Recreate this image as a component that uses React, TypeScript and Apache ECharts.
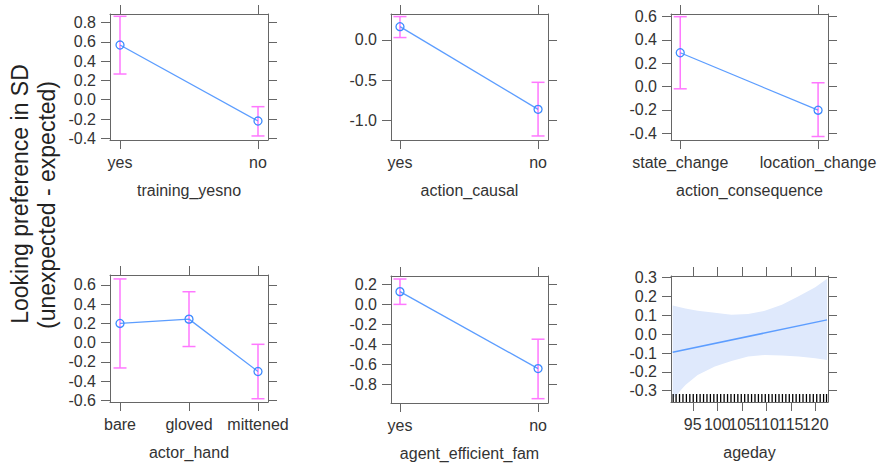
import React, { useEffect, useRef } from "react";
import * as echarts from "echarts";

// ---- data ----
const trainingCats = ["yes", "no"];
const trainingFit = [0.568, -0.221];
const trainingLo = [0.267, -0.376];
const trainingHi = [0.866, -0.072];

const causalCats = ["yes", "no"];
const causalFit = [0.165, -0.86];
const causalLo = [0.03, -1.19];
const causalHi = [0.29, -0.525];

const consequenceCats = ["state_change", "location_change"];
const consequenceFit = [0.29, -0.204];
const consequenceLo = [-0.02, -0.43];
const consequenceHi = [0.6, 0.032];

const handCats = ["bare", "gloved", "mittened"];
const handFit = [0.2, 0.245, -0.3];
const handLo = [-0.263, -0.04, -0.583];
const handHi = [0.663, 0.53, -0.017];

const efficientCats = ["yes", "no"];
const efficientFit = [0.127, -0.64];
const efficientLo = [0.0, -0.94];
const efficientHi = [0.253, -0.347];

const ageFitX = [90.9, 122.4];
const ageFitY = [-0.096, 0.076];
const ageBandX = [90.9, 93.5, 96.0, 99.5, 102.9, 106.3, 109.7, 113.2, 116.6, 120.0, 122.4];
const ageBandHi = [0.153, 0.137, 0.124, 0.114, 0.103, 0.107, 0.124, 0.156, 0.201, 0.249, 0.295];
const ageBandLo = [-0.345, -0.27, -0.216, -0.172, -0.142, -0.119, -0.11, -0.113, -0.119, -0.128, -0.137];
const ageRug = [
  91.0, 91.6, 92.3, 93.0, 93.7, 94.4, 95.1, 95.8, 96.5, 97.2, 97.9, 98.6, 99.3, 100.0, 100.7,
  101.4, 102.1, 102.8, 103.5, 104.2, 104.9, 105.6, 106.3, 107.0, 107.7, 108.4, 109.1, 109.8,
  110.5, 111.2, 111.9, 112.6, 113.3, 114.0, 114.7, 115.4, 116.1, 116.8, 117.5, 118.2, 118.9,
  119.6, 120.3, 121.0, 121.7, 122.3,
];
const ageTicks = [95, 100, 105, 110, 115, 120];
const ageLabelsA = [95, 105, 115];
const ageLabelsB = [100, 110, 120];

const yTicks1 = [-0.4, -0.2, 0.0, 0.2, 0.4, 0.6, 0.8];
const yTicks2 = [-1.0, -0.5, 0.0];
const yTicks3 = [-0.4, -0.2, 0.0, 0.2, 0.4, 0.6];
const yTicks4 = [-0.6, -0.4, -0.2, 0.0, 0.2, 0.4, 0.6];
const yTicks5 = [-0.8, -0.6, -0.4, -0.2, 0.0, 0.2];
const yTicks6 = [-0.3, -0.2, -0.1, 0.0, 0.1, 0.2, 0.3];

const titles = [
  "training_yesno",
  "action_causal",
  "action_consequence",
  "actor_hand",
  "agent_efficient_fam",
  "ageday",
];

// ---- styles ----
const FONT = "'Liberation Sans', Arial, Helvetica, sans-serif";
const TXT = "#333333";
const BOX = "#666666";
const MAGENTA = "#ff77ff";
const LINE_BLUE = "#5c9dff";
const PT_BLUE = "#3d8bff";
const BAND = "#dfe9fc";

type Panel = {
  left: number; top: number; width: number; height: number;
  xMin: number; xMax: number; yMin: number; yMax: number;
  cats?: string[]; fit?: number[]; lo?: number[]; hi?: number[];
  yTicks: number[];
};

const panels: Panel[] = [
  { left: 110, top: 14, width: 158, height: 126, xMin: -0.0725, xMax: 1.0725, yMin: -0.418, yMax: 0.89,
    cats: trainingCats, fit: trainingFit, lo: trainingLo, hi: trainingHi, yTicks: yTicks1 },
  { left: 391, top: 14, width: 157, height: 126, xMin: -0.065, xMax: 1.072, yMin: -1.24, yMax: 0.322,
    cats: causalCats, fit: causalFit, lo: causalLo, hi: causalHi, yTicks: yTicks2 },
  { left: 671, top: 14, width: 157, height: 126, xMin: -0.067, xMax: 1.072, yMin: -0.46, yMax: 0.623,
    cats: consequenceCats, fit: consequenceFit, lo: consequenceLo, hi: consequenceHi, yTicks: yTicks3 },
  { left: 110, top: 275, width: 158, height: 127, xMin: -0.145, xMax: 2.145, yMin: -0.617, yMax: 0.704,
    cats: handCats, fit: handFit, lo: handLo, hi: handHi, yTicks: yTicks4 },
  { left: 391, top: 276, width: 157, height: 127, xMin: -0.065, xMax: 1.072, yMin: -0.983, yMax: 0.283,
    cats: efficientCats, fit: efficientFit, lo: efficientLo, hi: efficientHi, yTicks: yTicks5 },
  { left: 671, top: 276, width: 157, height: 126, xMin: 90.56, xMax: 122.6, yMin: -0.36, yMax: 0.309,
    yTicks: yTicks6 },
];

const errRender = (params: any, api: any) => {
  const x = api.value(0);
  const lo = api.coord([x, api.value(1)]);
  const hi = api.coord([x, api.value(2)]);
  const hw = 6.5;
  const style = { stroke: MAGENTA, lineWidth: 1.5, fill: "none" };
  return {
    type: "group",
    children: [
      { type: "line", shape: { x1: lo[0], y1: lo[1], x2: hi[0], y2: hi[1] }, style },
      { type: "line", shape: { x1: lo[0] - hw, y1: lo[1], x2: lo[0] + hw, y2: lo[1] }, style },
      { type: "line", shape: { x1: hi[0] - hw, y1: hi[1], x2: hi[0] + hw, y2: hi[1] }, style },
    ],
  };
};

const bandRender = (params: any, api: any) => {
  const cs = params.coordSys;
  const upper = ageBandX.map((x, k) => api.coord([x, ageBandHi[k]]));
  const lower = ageBandX.map((x, k) => api.coord([x, ageBandLo[k]])).reverse();
  return {
    type: "polygon",
    shape: { points: upper.concat(lower) },
    style: { fill: BAND, stroke: "none" },
    clipPath: { type: "rect", shape: { x: cs.x, y: cs.y, width: cs.width, height: cs.height } },
  };
};

const rugRender = (params: any, api: any) => {
  const cs = params.coordSys;
  const x = api.coord([api.value(0), 0])[0];
  const yb = cs.y + cs.height;
  return {
    type: "line",
    shape: { x1: x, y1: yb, x2: x, y2: yb - 8 },
    style: { stroke: "#000", lineWidth: 1.3 },
  };
};

function buildOption() {
  const grid: any[] = [];
  const xAxis: any[] = [];
  const yAxis: any[] = [];
  const series: any[] = [];
  const lbl = { fontSize: 16, color: TXT, fontFamily: FONT };

  panels.forEach((p, i) => {
    grid.push({ left: p.left, top: p.top, width: p.width, height: p.height, containLabel: false });
    const axisLine = { show: true, onZero: false, lineStyle: { color: BOX, width: 1 } };
    const tickLine = { color: BOX, width: 1 };
    const xt = p.cats ? p.cats.map((_, k) => k) : ageTicks;
    const xl = p.cats ? xt : ageLabelsA;
    const xfmt = p.cats ? (v: number) => p.cats![Math.round(v)] : (v: number) => String(v);

    xAxis.push({
      type: "value", gridIndex: i, position: "bottom", min: p.xMin, max: p.xMax,
      axisLine, splitLine: { show: false },
      axisTick: { show: true, length: 9, lineStyle: tickLine, customValues: xt },
      axisLabel: {
        show: true, customValues: xl, formatter: xfmt, margin: 14,
        hideOverlap: false, showMaxLabel: true, showMinLabel: true, ...lbl,
      },
      name: titles[i], nameLocation: "middle", nameGap: 42,
      nameTextStyle: { ...lbl },
    });
    xAxis.push({
      type: "value", gridIndex: i, position: "top", min: p.xMin, max: p.xMax,
      axisLine, splitLine: { show: false },
      axisTick: { show: true, length: 9, lineStyle: tickLine, customValues: xt },
      axisLabel: { show: false },
    });
    yAxis.push({
      type: "value", gridIndex: i, position: "left", min: p.yMin, max: p.yMax,
      axisLine, splitLine: { show: false },
      axisTick: { show: true, length: 9, lineStyle: tickLine, customValues: p.yTicks },
      axisLabel: {
        show: true, customValues: p.yTicks, margin: 14,
        showMaxLabel: true, showMinLabel: true,
        formatter: (v: number) => v.toFixed(1), ...lbl,
      },
    });
    yAxis.push({
      type: "value", gridIndex: i, position: "right", min: p.yMin, max: p.yMax,
      axisLine, splitLine: { show: false },
      axisTick: { show: true, length: 9, lineStyle: tickLine, customValues: p.yTicks },
      axisLabel: { show: false },
    });

    const xi = 2 * i;
    const yi = 2 * i;
    if (p.cats) {
      series.push({
        type: "custom", xAxisIndex: xi, yAxisIndex: yi, renderItem: errRender,
        encode: { x: 0, y: [1, 2] },
        data: p.cats.map((_, k) => [k, p.lo![k], p.hi![k]]),
        z: 2,
      });
      series.push({
        type: "line", xAxisIndex: xi, yAxisIndex: yi,
        data: p.cats.map((_, k) => [k, p.fit![k]]),
        symbol: "circle", symbolSize: 8,
        itemStyle: { color: "rgba(0,0,0,0)", borderColor: PT_BLUE, borderWidth: 1.3 },
        lineStyle: { color: LINE_BLUE, width: 1.3 },
        z: 3,
      });
    } else {
      series.push({
        type: "custom", xAxisIndex: xi, yAxisIndex: yi, renderItem: bandRender,
        encode: { x: 0, y: 1 },
        data: [[ageBandX[0], ageBandHi[0]]],
        z: 1,
      });
      series.push({
        type: "line", xAxisIndex: xi, yAxisIndex: yi,
        data: ageFitX.map((x, k) => [x, ageFitY[k]]),
        symbol: "none", lineStyle: { color: LINE_BLUE, width: 1.5 }, z: 3,
      });
      series.push({
        type: "custom", xAxisIndex: xi, yAxisIndex: yi, renderItem: rugRender,
        encode: { x: 0, y: 1 },
        data: ageRug.map((v) => [v, 0]),
        z: 4,
      });
    }
  });

  // overlay grid for the alternate ageday tick labels (so overlapping labels all show)
  const p6 = panels[5];
  const gi = grid.length;
  grid.push({ left: p6.left, top: p6.top, width: p6.width, height: p6.height, containLabel: false });
  xAxis.push({
    type: "value", gridIndex: gi, position: "bottom", min: p6.xMin, max: p6.xMax,
    axisLine: { show: false, onZero: false }, axisTick: { show: false }, splitLine: { show: false },
    axisLabel: {
      show: true, customValues: ageLabelsB, formatter: (v: number) => String(v), margin: 14,
      hideOverlap: false, showMaxLabel: true, showMinLabel: true, ...lbl,
    },
  });
  yAxis.push({
    type: "value", gridIndex: gi, min: p6.yMin, max: p6.yMax, show: false,
  });

  return {
    animation: false,
    backgroundColor: "#ffffff",
    grid, xAxis, yAxis, series,
    graphic: [
      {
        type: "text", x: 20, y: 194, rotation: Math.PI / 2,
        style: {
          text: "Looking preference in SD", fontSize: 23, fontFamily: FONT, fill: "#222",
          align: "center", verticalAlign: "middle",
        },
      },
      {
        type: "text", x: 47, y: 205, rotation: Math.PI / 2,
        style: {
          text: "(unexpected - expected)", fontSize: 23, fontFamily: FONT, fill: "#222",
          align: "center", verticalAlign: "middle",
        },
      },
    ],
  };
}

export default function App() {
  const ref = useRef<HTMLDivElement>(null);
  useEffect(() => {
    if (!ref.current) return;
    const chart = echarts.init(ref.current, undefined, { renderer: "svg" });
    chart.setOption(buildOption() as any);
    return () => chart.dispose();
  }, []);
  return (
    <div
      ref={ref}
      style={{ position: "absolute", left: 0, top: 0, width: 883, height: 466, background: "#fff" }}
    />
  );
}
